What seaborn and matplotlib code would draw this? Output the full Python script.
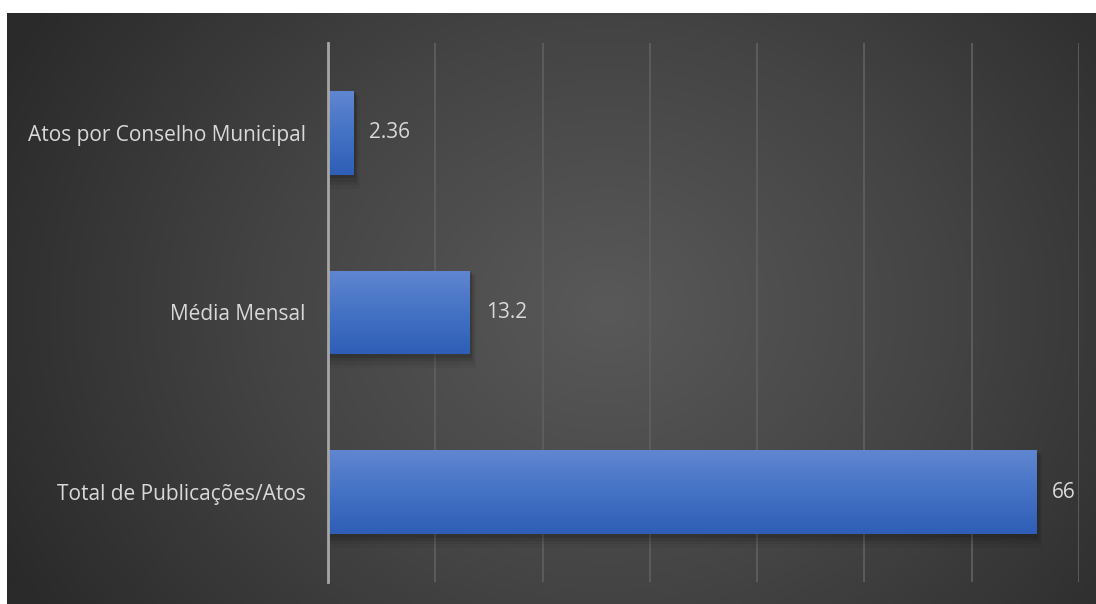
import numpy as np
import pandas as pd
import matplotlib
matplotlib.use("Agg")
import matplotlib.pyplot as plt
import seaborn as sns
from matplotlib.colors import LinearSegmentedColormap
from matplotlib.patches import Rectangle

categories = ["Atos por Conselho Municipal", "Média Mensal", "Total de Publicações/Atos"]
values = [2.36, 13.2, 66]
value_labels = ["2.36", "13.2", "66"]

sns.set_theme(style="dark")
plt.rcParams["font.family"] = ["Open Sans", "DejaVu Sans"]

W, H, DPI = 1096, 604, 100
fig = plt.figure(figsize=(W / DPI, H / DPI), dpi=DPI)
fig.patch.set_facecolor("white")

# background radial gradient panel
bg = fig.add_axes([7 / W, 0, 1 - 7 / W, (H - 13) / H])
bg.set_axis_off()
ny, nx = 300, 545
yy, xx = np.mgrid[0:ny, 0:nx]
cx, cy = nx * 0.55, ny * 0.5
d = np.sqrt(((xx - cx) / (nx * 0.62)) ** 2 + ((yy - cy) / (ny * 0.95)) ** 2)
d = np.clip(d, 0, 1)
cmap_bg = LinearSegmentedColormap.from_list("bg", ["#595959", "#444444", "#2a2a2a"])
bg.imshow(d, cmap=cmap_bg, aspect="auto", extent=[0, 1, 0, 1], vmin=0, vmax=1)
bg.set_xlim(0, 1)
bg.set_ylim(0, 1)

ax = fig.add_axes([328 / W, (H - 582) / H, (1079 - 328) / W, (582 - 43) / H])
ax.patch.set_alpha(0)

df = pd.DataFrame({"cat": categories, "val": values})
sns.barplot(data=df, x="val", y="cat", orient="h", width=0.467, color="#4472c4",
            ax=ax, zorder=3, saturation=1, linewidth=0, edgecolor="none")

ax.set_xlim(0, 70)
ax.set_ylim(2.5, -0.5)
ax.set_xticks(np.arange(0, 71, 10))
ax.set_xticklabels([])
ax.grid(axis="x", color="#5e5e5e", linewidth=1.3, zorder=0)
ax.grid(axis="y", visible=False)
for s in ["top", "right", "bottom"]:
    ax.spines[s].set_visible(False)
ax.spines["left"].set_color("#a6a6a6")
ax.spines["left"].set_linewidth(2)
ax.spines["left"].set_zorder(5)
ax.set_xlabel("")
ax.set_ylabel("")
ax.tick_params(axis="y", length=0, pad=16, labelsize=15, labelcolor="#d9d9d9")
ax.tick_params(axis="x", length=0)

grad = np.linspace(0, 1, 100).reshape(-1, 1)
cmap_bar = LinearSegmentedColormap.from_list("bar", ["#6086d1", "#4472c4", "#2e5eb6"])
for p in list(ax.patches):
    p.set_linewidth(0)
    p.set_edgecolor("none")
    x0, y0 = p.get_x(), p.get_y()
    w, h = p.get_width(), p.get_height()
    # soft shadow
    for i, a in enumerate([0.10, 0.08, 0.06, 0.04]):
        off = 0.012 * (i + 1)
        sh = Rectangle((x0 + 0.1, y0 + off * 0.6), w + 0.12 * (i + 1), h + off,
                       facecolor="black", alpha=a, edgecolor="none", zorder=2)
        ax.add_patch(sh)
    im = ax.imshow(grad, cmap=cmap_bar, aspect="auto",
                   extent=[x0, x0 + w, y0 + h, y0], zorder=4, vmin=0, vmax=1)
    im.set_clip_path(p)
ax.set_xlim(0, 70)
ax.set_ylim(2.5, -0.5)

for i, (v, lab) in enumerate(zip(values, value_labels)):
    ax.annotate(lab, xy=(v, i), xytext=(11.5, 0), textcoords="offset points",
                va="center", ha="left", fontsize=15, color="#d9d9d9", zorder=6)

fig.savefig("out.png", dpi=DPI, facecolor=fig.get_facecolor())
